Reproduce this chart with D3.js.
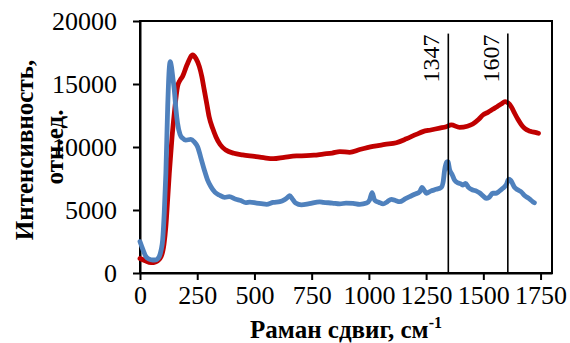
<!DOCTYPE html>
<html>
<head>
<meta charset="utf-8">
<script src="https://cdn.jsdelivr.net/npm/d3@7"></script>
<style>
  html, body { margin: 0; padding: 0; background: #fff; }
  svg { display: block; }
  svg text { font-family: "Liberation Serif", "Times New Roman", serif !important; fill: #000; }
</style>
</head>
<body>
<svg id="chart" width="570" height="343"></svg>
<script>
// Raman spectra: shift (cm-1) and intensity (arb. units) for two samples
const redShift = [0, 20, 48, 70, 92, 105, 113, 120, 128, 140, 150, 164, 175, 186, 205, 230, 245, 259, 270, 281, 292, 302, 317, 332, 350, 375, 410, 448, 500, 540, 582, 630, 684, 727, 760, 800, 840, 873, 916, 960, 1018, 1070, 1120, 1164, 1207, 1236, 1270, 1309, 1338, 1360, 1396, 1430, 1454, 1480, 1498, 1520, 1541, 1560, 1578, 1595, 1608, 1622, 1636, 1651, 1665, 1680, 1705, 1731, 1741];
const redIntensity = [1150, 1000, 820, 900, 1300, 2300, 3700, 5600, 7900, 10800, 12700, 14800, 15300, 15600, 16500, 17300, 17000, 16400, 15600, 14500, 13400, 12400, 11500, 10800, 10200, 9760, 9500, 9370, 9250, 9150, 9070, 9180, 9290, 9310, 9350, 9440, 9520, 9630, 9580, 9800, 10050, 10200, 10340, 10650, 11000, 11220, 11350, 11500, 11610, 11750, 11560, 11650, 11830, 12200, 12540, 12750, 12990, 13200, 13410, 13600, 13500, 13200, 12700, 12200, 11800, 11480, 11250, 11140, 11090];

const blueShift = [0, 12, 26, 40, 55, 70, 84, 92, 99, 106, 113, 121, 127, 132, 138, 144, 150, 157, 164, 175, 186, 200, 222, 237, 252, 265, 281, 295, 310, 328, 346, 370, 390, 419, 440, 462, 480, 509, 530, 553, 582, 611, 630, 645, 654, 665, 680, 705, 740, 785, 800, 840, 873, 900, 931, 960, 990, 1003, 1014, 1025, 1045, 1062, 1080, 1098, 1116, 1134, 1160, 1178, 1200, 1222, 1232, 1242, 1251, 1270, 1294, 1316, 1325, 1331, 1340, 1345, 1353, 1364, 1374, 1390, 1403, 1411, 1422, 1435, 1454, 1470, 1483, 1500, 1512, 1525, 1541, 1556, 1570, 1585, 1600, 1611, 1620, 1636, 1650, 1665, 1680, 1700, 1716, 1723];
const blueIntensity = [2490, 1900, 1300, 1100, 1030, 1050, 1300, 1800, 2620, 4800, 7900, 13200, 16000, 16770, 16300, 15400, 14500, 13000, 11900, 11000, 10700, 10550, 10600, 10400, 10000, 9200, 8180, 7400, 6850, 6400, 6190, 6000, 6060, 5850, 5750, 5580, 5620, 5550, 5500, 5450, 5600, 5660, 5800, 6000, 6140, 5900, 5550, 5400, 5500, 5650, 5610, 5550, 5480, 5550, 5530, 5450, 5550, 5790, 6370, 5790, 5600, 5480, 5650, 5850, 5750, 5660, 5900, 6060, 6250, 6450, 6800, 6550, 6330, 6500, 6640, 6800, 7300, 8180, 8800, 8830, 8180, 7800, 7380, 7150, 7060, 6980, 7120, 6800, 6590, 6500, 6370, 6100, 5930, 6000, 6330, 6330, 6500, 6720, 7000, 7440, 7350, 6800, 6600, 6450, 6150, 5900, 5660, 5580];

// Marked band positions (cm-1)
const bandPositions = [1347, 1607];
const bandTop = 19000;

const xTicks = [0, 250, 500, 750, 1000, 1250, 1500, 1750];
const yTicks = [0, 5000, 10000, 15000, 20000];

const serif = '"Liberation Serif", "Times New Roman", serif';
const margin = { left: 140, right: 18, top: 21, bottom: 70 };
const width = 570, height = 343;
const svg = d3.select("#chart");

const x = d3.scaleLinear().domain([0, 1800]).range([margin.left, width - margin.right]);
const y = d3.scaleLinear().domain([0, 20000]).range([height - margin.bottom, margin.top]);

// Plot frame
svg.append("rect")
  .attr("x", x(0)).attr("y", y(20000))
  .attr("width", x(1800) - x(0)).attr("height", y(0) - y(20000))
  .attr("fill", "none").attr("stroke", "#000").attr("stroke-width", 2);

// Axes
const xAxis = svg.append("g")
  .attr("transform", `translate(0,${y(0)})`)
  .call(d3.axisBottom(x).tickValues(xTicks).tickFormat(d3.format("d"))
    .tickSize(7).tickSizeOuter(0).tickPadding(6));
const yAxis = svg.append("g")
  .attr("transform", `translate(${x(0)},0)`)
  .call(d3.axisLeft(y).tickValues(yTicks).tickFormat(d3.format("d"))
    .tickSize(7).tickSizeOuter(0).tickPadding(16));

[xAxis, yAxis].forEach(g => {
  g.attr("font-family", serif).attr("font-size", 26);
  g.select(".domain").attr("stroke", "#000").attr("stroke-width", 2);
  g.selectAll(".tick line").attr("stroke", "#000").attr("stroke-width", 2);
  g.selectAll(".tick text").style("font-size", "26px").attr("fill", "#000");
});
yAxis.selectAll(".tick text").attr("dy", "0.34em");

// Spectra
const line = d3.line().x(d => x(d[0])).y(d => y(d[1])).curve(d3.curveMonotoneX);
const redData = redShift.map((s, i) => [s, redIntensity[i]]);
const blueData = blueShift.map((s, i) => [s, blueIntensity[i]]);

svg.append("path").datum(redData)
  .attr("d", line).attr("fill", "none")
  .attr("stroke", "#C00000").attr("stroke-width", 4.8)
  .attr("stroke-linejoin", "round").attr("stroke-linecap", "round");
svg.append("path").datum(blueData)
  .attr("d", line).attr("fill", "none")
  .attr("stroke", "#4F81BD").attr("stroke-width", 4.8)
  .attr("stroke-linejoin", "round").attr("stroke-linecap", "round");

// Band markers with rotated labels
bandPositions.forEach(b => {
  svg.append("line")
    .attr("x1", x(b)).attr("x2", x(b))
    .attr("y1", y(0)).attr("y2", y(bandTop))
    .attr("stroke", "#000").attr("stroke-width", 1.6);
  svg.append("text")
    .attr("transform", `translate(${x(b) - 9},${y(bandTop) + 1}) rotate(-90)`)
    .attr("text-anchor", "end")
    .style("font-size", "24px")
    .text(b);
});

// Axis titles
const xTitle = svg.append("text")
  .attr("x", 346).attr("y", 338)
  .attr("text-anchor", "middle")
  .style("font-size", "25px").style("font-weight", "bold");
xTitle.append("tspan").text("Раман сдвиг, см");
xTitle.append("tspan").attr("dy", -10).style("font-size", "16px").text("-1");

svg.append("text")
  .attr("transform", "translate(33,150) rotate(-90)")
  .attr("text-anchor", "middle")
  .style("font-size", "25px").style("font-weight", "bold")
  .text("Интенсивность,");
svg.append("text")
  .attr("transform", "translate(63,147) rotate(-90)")
  .attr("text-anchor", "middle")
  .style("font-size", "25px").style("font-weight", "bold")
  .text("отн.ед.");
</script>
</body>
</html>
